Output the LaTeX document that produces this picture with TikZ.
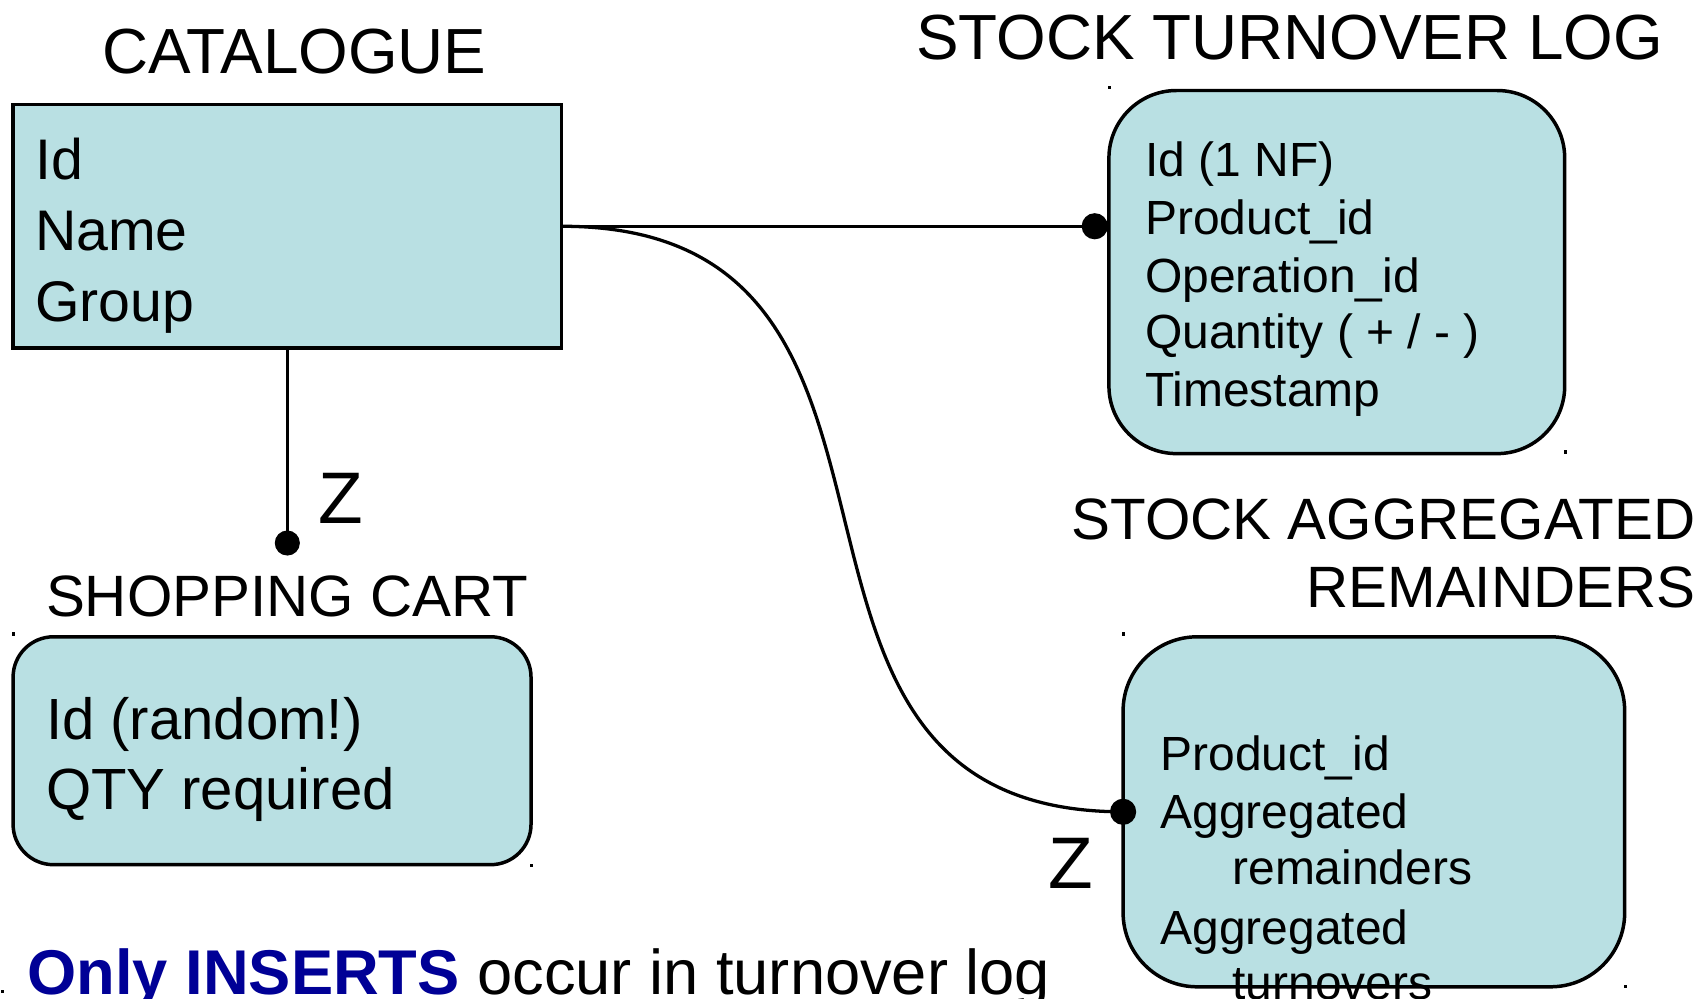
\documentclass[tikz,border=0pt]{standalone}
\usepackage{fontspec}
\setmainfont{Liberation Sans}
\usetikzlibrary{calc}
\definecolor{boxfill}{RGB}{185,224,227}
\definecolor{navyblue}{RGB}{0,0,150}
\begin{document}
\begin{tikzpicture}[x=1pt,y=-1pt,
  entbox/.style={draw=black,line width=3.2pt,fill=boxfill,inner sep=0pt,outer sep=0pt},
  conn/.style={line width=3pt,black},
  bigttl/.style={inner sep=0pt,font=\fontsize{58.5}{60}\selectfont},
  smallttl/.style={inner sep=0pt,font=\fontsize{53.5}{60}\selectfont},
  fldA/.style={anchor=base west,inner sep=0pt,font=\fontsize{52.5}{60}\selectfont},
  fldB/.style={anchor=base west,inner sep=0pt,font=\fontsize{44}{50}\selectfont},
  fldC/.style={anchor=base west,inner sep=0pt,font=\fontsize{53.3}{60}\selectfont},
  zlbl/.style={anchor=base west,inner sep=0pt,font=\fontsize{67}{67}\selectfont},
  speck/.style={fill=black}]
\useasboundingbox (0,0) rectangle (1560,915.3);
\clip (0,0) rectangle (1560,915.3);

% entity boxes
\node[entbox,minimum width=503pt,minimum height=223pt] (cat) at (263.5,207.5) {};
\node[entbox,rounded corners=62pt,minimum width=418pt,minimum height=333pt] (log) at (1226,249.5) {};
\node[entbox,rounded corners=37pt,minimum width=475pt,minimum height=209pt] (cart) at (249.5,688.5) {};
\node[entbox,rounded corners=68pt,minimum width=460pt,minimum height=321pt] (agg) at (1260,744.5) {};

% titles
\node[bigttl,anchor=base] (tcat) at (270,67) {CATALOGUE};
\node[bigttl,anchor=base west] (tlog) at (840,55) {STOCK TURNOVER LOG};
\node[smallttl,anchor=base west] (tcart) at (42,565) {SHOPPING CART};
\node[smallttl,anchor=base east] (tagg1) at (1555,495) {STOCK AGGREGATED};
\node[smallttl,anchor=base east] (tagg2) at (1555,557) {REMAINDERS};

% catalogue fields
\node[fldA] (c1) at (32,165) {Id};
\node[fldA] (c2) at (32,230) {Name};
\node[fldA] (c3) at (32,295) {Group};

% turnover log fields
\node[fldB] (l1) at (1050,162) {Id (1 NF)};
\node[fldB] (l2) at (1050,215) {Product\_id};
\node[fldB] (l3) at (1050,268) {Operation\_id};
\node[fldB] (l4) at (1050,320) {Quantity ( + / - )};
\node[fldB] (l5) at (1050,373) {Timestamp};

% shopping cart fields
\node[fldC] (s1) at (42,678) {Id (random!)};
\node[fldC] (s2) at (42,742) {QTY required};

% aggregated fields
\node[fldB] (a1) at (1064,707) {Product\_id};
\node[fldB] (a2) at (1064,760) {Aggregated};
\node[fldB] (a3) at (1130,811) {remainders};
\node[fldB] (a4) at (1064,866) {Aggregated};
\node[fldB] (a5) at (1130,917) {turnovers};

% connectors
\coordinate (d1) at ($(cat.east -| log.west)+(-13,0)$);
\coordinate (d2) at ($(cat.south)+(0,179)$);
\draw[conn] (cat.east) -- (d1);
\draw[conn] (cat.east) .. controls +(385,0) and +(-380,0) .. (agg.west);
\draw[conn] (cat.south) -- (d2);
\fill (d1) circle[radius=12pt];
\fill (d2) circle[radius=11.5pt];
\fill (agg.west) circle[radius=12pt];

% Z labels
\node[zlbl] (z1) at (292,480) {Z};
\node[zlbl] (z2) at (961,815) {Z};

% bottom note
\node[anchor=base west,inner sep=0pt,font=\fontsize{58}{60}\selectfont] (note) at (25,912)
  {\textcolor{navyblue}{\textbf{Only INSERTS}} occur in turnover log};

% tiny specks
\fill[speck] (1016,79) rectangle +(3,3);
\fill[speck] (1434,413) rectangle +(3,3);
\fill[speck] (11,580) rectangle +(3,3);
\fill[speck] (486,792) rectangle +(3,3);
\fill[speck] (1029,580) rectangle +(3,3);
\fill[speck] (1489,903) rectangle +(3,3);
\fill[speck] (1,908) rectangle +(3,3);
\end{tikzpicture}
\end{document}
